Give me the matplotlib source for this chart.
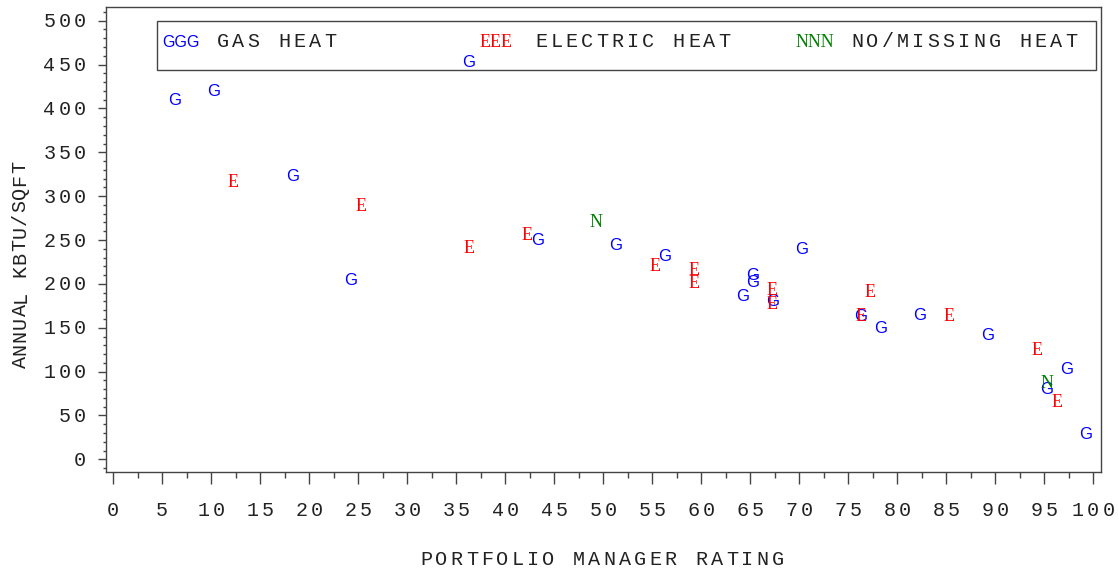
import matplotlib.pyplot as plt
from matplotlib.patches import Rectangle
from matplotlib.ticker import MultipleLocator
from matplotlib import transforms

# portfolio manager rating vs annual kbtu/sqft, by heat type
gas_x = [6, 10, 36, 18, 24, 43, 51, 56, 65, 65, 64, 67, 70, 76, 78, 82, 89, 97, 95, 99]
gas_y = [411, 421, 454, 324, 205, 251, 245, 233, 211, 203, 187, 181, 241, 164, 151, 165, 143, 104, 81, 30]

elec_x = [12, 25, 36, 42, 55, 59, 59, 67, 67, 76, 77, 85, 94, 96]
elec_y = [317, 290, 242, 257, 221, 217, 202, 194, 178, 164, 192, 165, 126, 67]

none_x = [49, 95]
none_y = [272, 88]

x_ticks = list(range(0, 101, 5))
y_ticks = list(range(0, 501, 50))

W, H = 1118, 571
mono = "Liberation Mono"
TXT = "#222222"
AX = "#444444"
SIZE = 14.5     # pt, the sas "courier" text
PITCH = 15.3    # px between letters (sas spreads them out)

fig = plt.figure(figsize=(W / 100, H / 100), dpi=100)
ax = fig.add_axes([106 / W, 1 - 471.7 / H, (1101 - 106) / W, (471.7 - 7.3) / H])
ax.set_xlim(-0.745, 100.79)
ax.set_ylim(-14.1, 515.3)


def spaced(x, y, s, tr, ha="center", va="baseline", rot=0, color=TXT, size=SIZE, pitch=PITCH):
    # draw letter by letter so the spacing looks like the sas output
    n = len(s)
    adv = 0.6 * size * 100 / 72
    if ha == "center":
        first = -(n - 1) / 2 * pitch
    elif ha == "left":
        first = adv / 2
    else:
        first = -adv / 2 - (n - 1) * pitch
    for i, ch in enumerate(s):
        d = first + i * pitch
        dx, dy = (0, d) if rot else (d, 0)
        t = transforms.offset_copy(tr, fig=fig, x=dx, y=dy, units="dots")
        fig.text(x, y, ch, transform=t, ha="center", va=va, rotation=rot,
                 family=mono, fontsize=size, color=color)


def pxf(x, y):
    return x / W, 1 - y / H


# the letters themselves are the markers
for xs, ys, ch, col, fam, fs, cap in [(gas_x, gas_y, "G", "blue", "Liberation Sans", 12, 11.8),
                                      (elec_x, elec_y, "E", "red", "Liberation Serif", 13, 11.9),
                                      (none_x, none_y, "N", "green", "Liberation Serif", 13, 11.9)]:
    tr = transforms.offset_copy(ax.transData, fig=fig, x=2.5, y=-cap / 2, units="dots")
    for x, y in zip(xs, ys):
        ax.text(x, y, ch, color=col, ha="center", va="baseline",
                fontsize=fs, family=fam, transform=tr)

ax.set_xticks(x_ticks)
ax.set_yticks(y_ticks)
ax.xaxis.set_minor_locator(MultipleLocator(2.5))
ax.yaxis.set_minor_locator(MultipleLocator(10))
ax.tick_params(axis="x", which="major", length=8.6, width=1, color=AX, labelbottom=False)
ax.tick_params(axis="x", which="minor", length=4.3, width=1, color=AX)
ax.tick_params(axis="y", which="major", length=5.8, width=1, color=AX, labelleft=False)
ax.tick_params(axis="y", which="minor", length=2.5, width=1, color=AX)
for sp in ax.spines.values():
    sp.set_color(AX)
    sp.set_linewidth(1)

# tick labels, spaced out like the rest of the text
xlab_tr = transforms.offset_copy(ax.get_xaxis_transform(), fig=fig, x=0, y=-44.3, units="dots")
for v in x_ticks:
    spaced(v, 0, str(v), xlab_tr)
ylab_tr = transforms.offset_copy(ax.get_yaxis_transform(), fig=fig, x=-20, y=-6.5, units="dots")
for v in y_ticks:
    spaced(0, v, str(v), ylab_tr, ha="right")

spaced(*pxf(602, 565), "PORTFOLIO MANAGER RATING", fig.transFigure)
lab_tr = transforms.offset_copy(fig.transFigure, fig=fig, x=0, y=0, units="dots")
spaced(*pxf(20, 264), "ANNUAL KBTU/SQFT", lab_tr, va="center", rot=90, pitch=13)

# legend box drawn by hand
ax.add_patch(Rectangle(pxf(157, 70), (1096 - 157) / W, (70 - 21) / H,
                       transform=fig.transFigure, fill=False, edgecolor=AX, lw=1))
entries = [(162, "GGG", "blue", "Liberation Sans", 11.5, 217, "GAS HEAT"),
           (480, "EEE", "red", "Liberation Serif", 13, 535, "ELECTRIC HEAT"),
           (796, "NNN", "green", "Liberation Serif", 13, 851, "NO/MISSING HEAT")]
for sx, sym, col, fam, fs, tx, label in entries:
    fig.text(*pxf(sx, 46.7), sym, color=col, ha="left", va="baseline",
             family=fam, fontsize=fs)
    spaced(*pxf(tx, 46.7), label, fig.transFigure, ha="left")

fig.savefig("out.png", dpi=100)
